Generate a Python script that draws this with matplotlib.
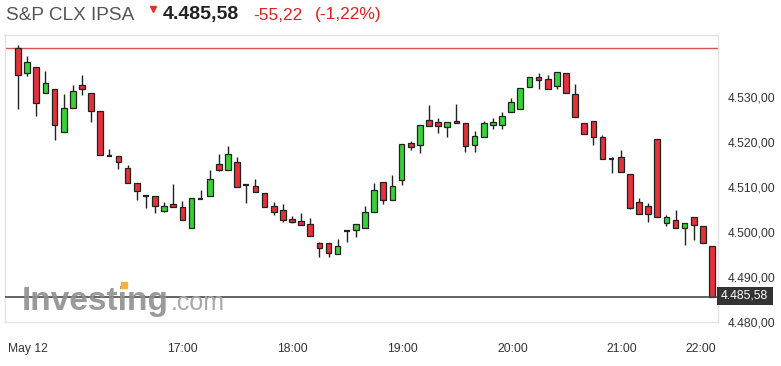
import matplotlib
matplotlib.use("Agg")
import numpy as np
import matplotlib.pyplot as plt
from matplotlib.patches import Rectangle
from matplotlib.lines import Line2D

plt.rcParams['font.family'] = ['Liberation Sans', 'DejaVu Sans']

# 5-minute candles, May 12
opens = [4540.8, 4535.3, 4536.7, 4530.8, 4531.7, 4522.2, 4527.5, 4532.6, 4531.0, 4527.0,
         4517.0, 4517.0, 4514.2, 4510.8, 4508.0, 4508.1, 4504.7, 4506.2, 4505.5, 4501.0,
         4507.3, 4507.9, 4515.1, 4513.8, 4515.6, 4510.4, 4510.3, 4508.6, 4505.8, 4505.0,
         4502.9, 4502.5, 4501.7, 4497.6, 4497.5, 4495.1, 4500.3, 4500.4, 4501.0, 4504.4,
         4511.2, 4507.1, 4511.6, 4519.8, 4519.3, 4525.0, 4524.4, 4523.3, 4524.7, 4524.3,
         4519.3, 4521.2, 4523.8, 4523.8, 4526.7, 4527.4, 4532.2, 4534.5, 4534.0, 4532.5,
         4535.4, 4530.7, 4524.3, 4524.7, 4521.2, 4516.2, 4516.7, 4513.0, 4506.6, 4505.8,
         4520.6, 4502.1, 4502.7, 4501.0, 4503.4, 4501.4, 4497.0]
highs = [4541.5, 4539.1, 4536.7, 4535.7, 4531.7, 4530.7, 4532.7, 4534.9, 4531.0, 4527.0,
         4518.4, 4517.0, 4514.9, 4510.8, 4508.3, 4508.1, 4506.7, 4510.7, 4507.0, 4507.5,
         4509.3, 4513.9, 4517.3, 4519.1, 4516.7, 4510.6, 4511.9, 4508.6, 4506.7, 4506.2,
         4503.6, 4504.2, 4503.2, 4497.8, 4497.5, 4498.4, 4500.4, 4501.7, 4505.8, 4510.8,
         4511.2, 4512.6, 4519.5, 4520.3, 4523.9, 4528.2, 4525.3, 4524.4, 4528.4, 4524.3,
         4522.5, 4524.7, 4525.3, 4526.6, 4529.8, 4532.0, 4534.5, 4535.4, 4534.9, 4535.6,
         4535.4, 4532.9, 4524.3, 4524.7, 4521.6, 4516.6, 4518.2, 4513.0, 4507.6, 4506.5,
         4520.6, 4503.8, 4505.0, 4501.9, 4503.4, 4501.4, 4497.0]
lows = [4527.3, 4534.7, 4525.9, 4530.8, 4520.4, 4522.2, 4527.5, 4530.4, 4524.4, 4517.1,
        4517.0, 4514.0, 4510.8, 4507.1, 4505.4, 4504.2, 4504.4, 4505.5, 4502.7, 4501.0,
        4507.3, 4507.9, 4513.6, 4513.8, 4509.9, 4506.5, 4509.0, 4505.5, 4503.8, 4502.2,
        4501.9, 4501.6, 4499.1, 4494.5, 4494.4, 4495.1, 4497.8, 4499.0, 4501.0, 4504.4,
        4506.2, 4507.1, 4510.4, 4518.2, 4517.5, 4523.6, 4522.1, 4521.2, 4524.2, 4517.9,
        4517.7, 4521.2, 4522.9, 4522.9, 4526.7, 4527.4, 4532.2, 4531.9, 4531.9, 4531.9,
        4530.8, 4525.5, 4521.9, 4519.3, 4516.2, 4513.2, 4513.3, 4505.2, 4504.0, 4502.3,
        4503.3, 4501.4, 4501.0, 4497.1, 4498.2, 4497.6, 4485.58]
closes = [4535.0, 4537.8, 4528.6, 4533.2, 4523.8, 4527.5, 4531.4, 4531.7, 4526.9, 4517.1,
          4517.0, 4515.5, 4510.8, 4509.1, 4508.0, 4505.8, 4505.8, 4505.5, 4502.7, 4507.5,
          4507.3, 4511.7, 4513.8, 4517.3, 4509.9, 4510.4, 4509.0, 4505.5, 4504.4, 4502.7,
          4502.2, 4501.6, 4499.1, 4496.4, 4495.4, 4497.0, 4500.3, 4501.7, 4504.4, 4509.3,
          4507.1, 4510.3, 4519.5, 4519.0, 4523.9, 4523.6, 4523.6, 4524.4, 4524.2, 4519.1,
          4521.3, 4524.3, 4524.4, 4525.9, 4528.9, 4532.0, 4534.5, 4533.9, 4531.9, 4535.6,
          4530.8, 4525.5, 4521.9, 4521.2, 4516.2, 4516.2, 4513.3, 4505.4, 4504.0, 4504.0,
          4503.3, 4503.3, 4501.0, 4501.9, 4501.6, 4497.6, 4485.58]

prev_close = 4540.80
change = -55.22
change_pct = -1.22

x_tick_pos = [1.1, 18, 30, 42.1, 54.2, 66.1, 74.8]
x_tick_labels = ["May 12", "17:00", "18:00", "19:00", "20:00", "21:00", "22:00"]
y_ticks = [4480, 4490, 4500, 4510, 4520, 4530]


def fmt(v):
    s = "{:,.2f}".format(v)
    return s.replace(",", "X").replace(".", ",").replace("X", ".")


W, H = 781, 366
fig = plt.figure(figsize=(W / 100, H / 100), dpi=100)
ax = fig.add_axes([4.5 / W, 1 - 322 / H, (718 - 4.5) / W, (322 - 35) / H])

RED = "#e3323a"
GREEN = "#38d238"
EDGE = "#222222"
bw = 0.62

for i in range(len(opens)):
    o, h, l, c = opens[i], highs[i], lows[i], closes[i]
    ax.vlines(i, l, h, color=EDGE, lw=1.0, zorder=3)
    if o == c:
        ax.hlines(o, i - bw / 2, i + bw / 2, color=EDGE, lw=1.6, zorder=4)
    else:
        col = GREEN if c > o else RED
        ax.add_patch(Rectangle((i - bw / 2, min(o, c)), bw, abs(c - o),
                               facecolor=col, edgecolor=EDGE, lw=0.9, zorder=4))

ax.axhline(prev_close, color="#d9534f", lw=1.0, zorder=2)
ax.axhline(closes[-1], color="#4a4a4a", lw=1.2, zorder=5)

ax.set_xlim(-1.48, 76.65)
ax.set_ylim(4480, 4543.8)
ax.yaxis.tick_right()
ax.set_yticks(y_ticks)
ax.set_yticklabels([fmt(v) for v in y_ticks], fontsize=8.7, color="#333333")
ax.set_xticks(x_tick_pos)
ax.set_xticklabels(x_tick_labels, fontsize=8.7, color="#333333")
ax.tick_params(axis="y", length=0, pad=7)
ax.tick_params(axis="x", length=0, pad=15)
for sp in ax.spines.values():
    sp.set_color("#e4e4e4")
    sp.set_linewidth(1.0)

# watermark
fig.text(22 / W, 1 - 310 / H, "Investing", fontsize=24, fontweight="bold",
         color="#8f8f8f", alpha=0.9, va="baseline", ha="left", zorder=1)
fig.text(171 / W, 1 - 310 / H, ".com", fontsize=18, color="#a8a8a8",
         va="baseline", ha="left", zorder=1)
fig.add_artist(Line2D([124 / W], [1 - 285 / H], marker="s", markersize=4,
                      color="#f5b041", transform=fig.transFigure))

# last price box
fig.patches.append(Rectangle((716.5 / W, 1 - 304.5 / H), 56 / W, 17.5 / H,
                             facecolor="#333333", edgecolor="none",
                             transform=fig.transFigure, figure=fig))
fig.text(744.5 / W, 1 - 296 / H, fmt(closes[-1]), fontsize=8.7, color="white",
         ha="center", va="center")

# header
fig.text(6 / W, 1 - 15 / H, "S&P CLX IPSA", fontsize=13.7, color="#555555",
         va="center", ha="left")
fig.add_artist(Line2D([153 / W], [1 - 9 / H], marker="v", markersize=5,
                      color="#e03030", transform=fig.transFigure))
fig.text(163 / W, 1 - 15 / H, fmt(closes[-1]), fontsize=14, fontweight="bold",
         color="#222222", va="center", ha="left")
fig.text(253 / W, 1 - 15 / H, fmt(change), fontsize=12.5, color="#dd1f1f",
         va="center", ha="left")
fig.text(315 / W, 1 - 15 / H, "(" + fmt(change_pct) + "%)", fontsize=12.5,
         color="#dd1f1f", va="center", ha="left")

fig.savefig("out.png", dpi=100)
